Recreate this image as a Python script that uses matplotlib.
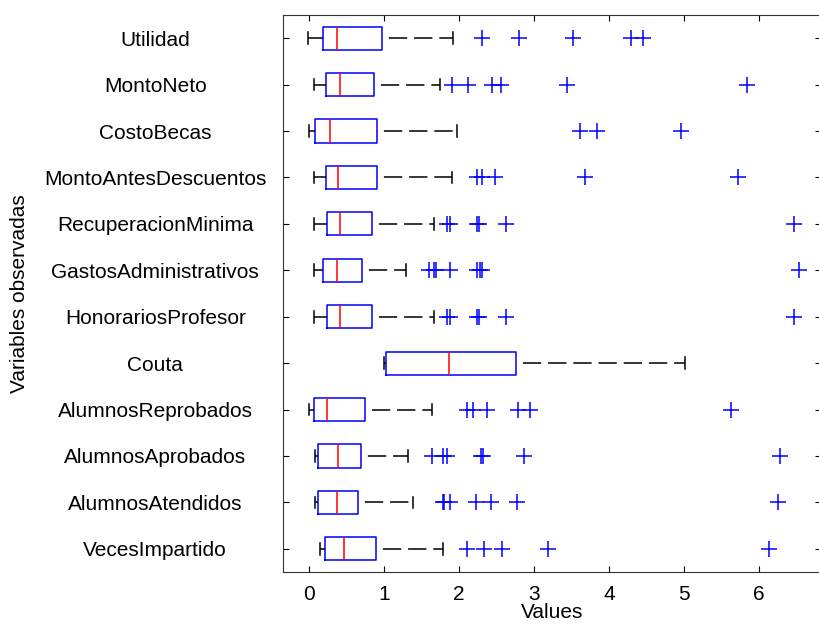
import matplotlib
matplotlib.use("Agg")
import matplotlib.pyplot as plt

# Variables, de abajo hacia arriba
labels = ["VecesImpartido", "AlumnosAtendidos", "AlumnosAprobados", "AlumnosReprobados",
          "Couta", "HonorariosProfesor", "GastosAdministrativos", "RecuperacionMinima",
          "MontoAntesDescuentos", "CostoBecas", "MontoNeto", "Utilidad"]

whis_lo = [0.15, 0.08, 0.08, 0.00, 1.00, 0.06, 0.06, 0.06, 0.06, 0.00, 0.06, -0.02]
q1      = [0.21, 0.12, 0.12, 0.06, 1.02, 0.24, 0.19, 0.24, 0.23, 0.08, 0.23, 0.19]
median  = [0.46, 0.37, 0.39, 0.24, 1.86, 0.41, 0.37, 0.41, 0.39, 0.28, 0.41, 0.37]
q3      = [0.89, 0.65, 0.69, 0.74, 2.76, 0.84, 0.71, 0.84, 0.91, 0.91, 0.87, 0.97]
whis_hi = [1.79, 1.38, 1.32, 1.64, 5.01, 1.67, 1.29, 1.67, 1.91, 1.97, 1.74, 1.92]

outliers = [
    [2.11, 2.33, 2.57, 3.19, 6.13],
    [1.78, 1.80, 1.88, 2.22, 2.42, 2.77, 6.26],
    [1.64, 1.79, 1.84, 2.29, 2.32, 2.86, 6.28],
    [2.11, 2.19, 2.37, 2.79, 2.95, 5.63],
    [],
    [1.84, 1.88, 2.24, 2.26, 2.62, 6.47],
    [1.60, 1.67, 1.69, 1.88, 2.24, 2.28, 2.31, 6.54],
    [1.84, 1.88, 2.24, 2.26, 2.62, 6.47],
    [2.24, 2.30, 2.48, 3.68, 5.72],
    [3.61, 3.84, 4.96],
    [1.90, 2.12, 2.44, 2.56, 3.44, 5.84],
    [2.31, 2.80, 3.52, 4.30, 4.46],
]

stats = []
for i in range(len(labels)):
    stats.append(dict(whislo=whis_lo[i], q1=q1[i], med=median[i], q3=q3[i],
                      whishi=whis_hi[i], fliers=outliers[i], label=labels[i]))

plt.rcParams['font.family'] = ['Liberation Sans', 'DejaVu Sans']

fig = plt.figure(figsize=(8.2, 6.25), dpi=100)
ax = fig.add_axes([283 / 820, 53 / 625, 538 / 820, 557 / 625])

blue = '#0000ff'
bp = ax.bxp(stats, positions=range(1, 13), orientation='horizontal', widths=0.5,
            capwidths=0.25,
            boxprops=dict(color=blue, linewidth=1.1),
            medianprops=dict(color='red', linewidth=1.1),
            whiskerprops=dict(color='black', linewidth=1.1, linestyle=(0, (12, 4.5))),
            capprops=dict(color='black', linewidth=1.1),
            flierprops=dict(marker='+', markeredgecolor=blue, markersize=11,
                            markeredgewidth=1.1, linestyle='none'))

# bigote superior: el patron empieza con un hueco junto a la caja
for w in bp['whiskers'][1::2]:
    w.set_linestyle((12, (12, 4.5)))

ax.set_xlim(-0.347, 6.827)
ax.set_ylim(0.5, 12.5)
ax.set_xticks(range(0, 7))
ax.set_yticks(range(1, 13))
ax.set_yticklabels(labels)
for lbl in ax.get_yticklabels():
    lbl.set_horizontalalignment('center')
ax.tick_params(direction='in', length=4, top=True, right=True, labelsize=15)
ax.tick_params(axis='y', pad=92)
ax.tick_params(axis='x', pad=9)
for s in ax.spines.values():
    s.set_color('#333333')

ax.set_xlabel("Values", fontsize=15, labelpad=0)
ax.set_ylabel("Variables observadas", fontsize=15)
ax.yaxis.set_label_coords(-254 / 538, 0.5)

fig.savefig("out.png", dpi=100)
